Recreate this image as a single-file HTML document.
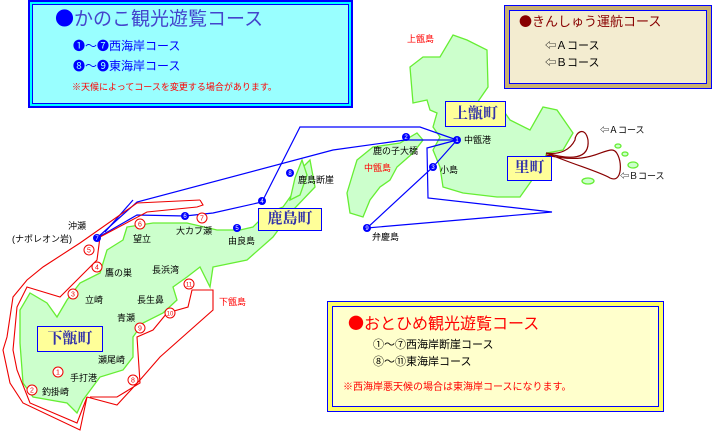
<!DOCTYPE html>
<html><head><meta charset="utf-8"><style>
body{margin:0;background:#fff;width:712px;height:431px;overflow:hidden;position:relative;font-family:"Liberation Sans","Noto Sans CJK JP",sans-serif}
.t{position:absolute;font-size:10px;white-space:nowrap;line-height:1}
.b{font-family:"Noto Sans CJK JP",sans-serif}
.town{position:absolute;background:#ffff99;border:1px solid #0000ff;color:#3333aa;font-family:"Liberation Serif","Noto Serif CJK SC",serif;font-weight:bold;font-size:15px;text-align:center;box-sizing:border-box}
</style></head><body>
<svg width="712" height="431" style="position:absolute;left:0;top:0">
<g fill="#ccffcc" stroke="#66ee33" stroke-width="1.3">
<polygon points="453,35 467,40 487,50 488,87 477,103 503,110 510,120 530,130 543,107 557,110 573,133 563,150 547,153 537,173 520,197 497,197 463,193 443,187 440,167 433,150 440,137 433,127 437,113 430,110 427,100 413,103 410,67 423,57 440,57"/>
<polygon points="357,160 373,147 400,143 417,133 423,140 413,153 397,167 390,180 380,187 370,200 363,217 350,213 347,193 353,173"/>
<polygon points="310,160 315,187 293,210 273,237 247,260 213,267 210,287 200,267 187,277 173,287 177,300 163,313 143,323 133,337 133,357 123,370 100,377 83,400 77,413 67,403 33,397 23,383 20,343 20,310 30,293 47,303 57,317 67,300 80,283 100,273 107,250 123,240 127,227 153,223 187,223 217,230 240,230 253,227 267,213 283,207 293,193 300,170"/>
<polygon points="302,160 307,175 300,195 290,200 295,178"/>
<ellipse cx="618" cy="146" rx="3" ry="2"/><ellipse cx="625" cy="154" rx="3" ry="2"/><ellipse cx="633" cy="165" rx="5" ry="3"/><ellipse cx="588" cy="181" rx="6" ry="3"/>
</g>
<g fill="none" stroke="#0000ff" stroke-width="1.2">
<polyline points="97,238 137,202 333,150 405,140 457,140"/>
<polyline points="97,238 137,215 185,216 213,213 262,202 300,127 420,127 457,140"/>
<polyline points="457,140 427,148 428,198 552,212 367,228 433,167 457,140"/>
<polyline points="105,232 133,200"/>
</g>
<g fill="none" stroke="#ee0000" stroke-width="1.1">
<polyline points="200,200 137,203 80,243 43,267 27,280 13,297 7,337 3,350 10,383 23,403 80,430 87,397"/>
<polyline points="200,200 203,205 197,207 147,212 100,237"/>
<polyline points="100,237 97,260 80,277 60,297 27,287 17,307 13,350 17,370 30,403 77,423 87,397"/>
<polyline points="87,397 117,405 140,380 160,357 213,310 213,290 192,290 188,307 167,313 153,330 137,337 140,383 117,397 90,397"/>
</g>
<g fill="none" stroke="#880000" stroke-width="1.2">
<path d="M546,153 C570,160 590,160 588,140 C585,125 575,133 575,140 C570,150 560,155 546,153"/>
<path d="M546,153 C575,165 600,172 610,178 C625,185 622,150 612,150 C600,150 590,165 546,155"/>
</g>
<g fill="#0000ff">
<circle cx="457" cy="140" r="4"/><circle cx="406" cy="137" r="4"/><circle cx="433" cy="167" r="4"/><circle cx="262" cy="201" r="4"/><circle cx="237" cy="228" r="4"/><circle cx="185" cy="216" r="4"/><circle cx="97" cy="238" r="4"/><circle cx="290" cy="173" r="4"/><circle cx="367" cy="228" r="4"/>
</g>
<g fill="#fff" font-size="6" font-family="Liberation Sans" text-anchor="middle">
<text x="457" y="142">1</text><text x="406" y="139">2</text><text x="433" y="169">3</text><text x="262" y="203">4</text><text x="237" y="230">5</text><text x="185" y="218">6</text><text x="97" y="240">7</text><text x="290" y="175">8</text><text x="367" y="230">9</text>
</g>
<g fill="#fff" stroke="#ee0000">
<circle cx="58" cy="372" r="5"/><circle cx="32" cy="390" r="5"/><circle cx="73" cy="294" r="5"/><circle cx="97" cy="267" r="5"/><circle cx="89" cy="250" r="5"/><circle cx="140" cy="224" r="5"/><circle cx="202" cy="218" r="5"/><circle cx="133" cy="380" r="5"/><circle cx="140" cy="328" r="5"/><circle cx="170" cy="313" r="5"/><circle cx="189" cy="284" r="5"/>
</g>
<g fill="#ee0000" font-size="7" font-family="Liberation Sans" text-anchor="middle">
<text x="58" y="374.5">1</text><text x="32" y="392.5">2</text><text x="73" y="296.5">3</text><text x="97" y="269.5">4</text><text x="89" y="252.5">5</text><text x="140" y="226.5">6</text><text x="202" y="220.5">7</text><text x="133" y="382.5">8</text><text x="140" y="330.5">9</text><text x="170" y="315.5" font-size="6">10</text><text x="189" y="286.5" font-size="6">11</text>
</g>
</svg>
<div style="position:absolute;left:28px;top:0;width:325px;height:108px;box-sizing:border-box;border:2px solid #0000ff;background:#00ffff">
<div style="position:absolute;left:2px;top:2px;right:2px;bottom:2px;border:1px solid #0000ff;background:#99ffff"></div></div>
<div class="t" style="left:55px;top:8px;font-size:19px;color:#0000ff"><span class="b">●</span><span style="color:#4444cc">かのこ観光遊覧コース</span></div>
<div class="t" style="left:73px;top:40px;font-size:12px;color:#0000ff">❶～❼西海岸コース</div>
<div class="t" style="left:73px;top:60px;font-size:12px;color:#0000ff">❽～❾東海岸コース</div>
<div class="t" style="left:72px;top:83px;font-size:9px;color:#ff0000">※天候によってコースを変更する場合があります。</div>
<div style="position:absolute;left:504px;top:5px;width:208px;height:84px;box-sizing:border-box;background:#c8b070;border:1px solid #0000ff">
<div style="position:absolute;left:4px;top:4px;right:4px;bottom:4px;border:1px solid #0000ff;background:#f3ecd0"></div></div>
<div class="t" style="left:519px;top:14px;font-size:13px;color:#880000"><span class="b">●</span>きんしゅう運航コース</div>
<div class="t" style="left:545px;top:41px;font-size:11px;color:#000">⇦Ａコース</div>
<div class="t" style="left:545px;top:58px;font-size:11px;color:#000">⇦Ｂコース</div>
<div style="position:absolute;left:327px;top:301px;width:337px;height:111px;box-sizing:border-box;background:#ffff66;border:1px solid #0000ff">
<div style="position:absolute;left:4px;top:4px;right:4px;bottom:4px;border:1px solid #0000ff;background:#ffffcc"></div></div>
<div class="t" style="left:348px;top:314px;font-size:16px;color:#ff0000"><span class="b">●</span>おとひめ観光遊覧コース</div>
<div class="t" style="left:373px;top:340px;font-size:11px;color:#000">①～⑦西海岸断崖コース</div>
<div class="t" style="left:373px;top:357px;font-size:11px;color:#000">⑧～⑪東海岸コース</div>
<div class="t" style="left:343px;top:383px;font-size:10px;color:#ff0000">※西海岸悪天候の場合は東海岸コースになります。</div>
<div class="town" style="left:445px;top:101px;width:61px;height:26px;line-height:24px">上甑町</div>
<div class="town" style="left:507px;top:156px;width:45px;height:25px;line-height:23px">里町</div>
<div class="town" style="left:258px;top:208px;width:64px;height:23px;line-height:21px">鹿島町</div>
<div class="town" style="left:37px;top:326px;width:66px;height:26px;line-height:24px">下甑町</div>
<div class="t" style="left:407px;top:35px;color:#ff0000;font-size:9px">上甑島</div>
<div class="t" style="left:364px;top:164px;color:#ff0000;font-size:9px">中甑島</div>
<div class="t" style="left:219px;top:298px;color:#ff0000;font-size:9px">下甑島</div>
<div class="t" style="left:373px;top:147px;font-size:9px">鹿の子大橋</div>
<div class="t" style="left:464px;top:136px;font-size:9px">中甑港</div>
<div class="t" style="left:440px;top:166px;font-size:9px">小島</div>
<div class="t" style="left:372px;top:233px;font-size:9px">弁慶島</div>
<div class="t" style="left:298px;top:176px;font-size:9px">鹿島断崖</div>
<div class="t" style="left:600px;top:126px;font-size:9px">⇦Ａコース</div>
<div class="t" style="left:620px;top:172px;font-size:9px">⇦Ｂコース</div>
<div class="t" style="left:68px;top:222px;font-size:9px">沖瀬</div>
<div class="t" style="left:12px;top:235px;font-size:9px">(ナポレオン岩)</div>
<div class="t" style="left:176px;top:227px;font-size:9px">大カブ瀬</div>
<div class="t" style="left:228px;top:237px;font-size:9px">由良島</div>
<div class="t" style="left:133px;top:235px;font-size:9px">望立</div>
<div class="t" style="left:105px;top:269px;font-size:9px">鷹の巣</div>
<div class="t" style="left:152px;top:266px;font-size:9px">長浜湾</div>
<div class="t" style="left:85px;top:296px;font-size:9px">立崎</div>
<div class="t" style="left:137px;top:296px;font-size:9px">長生鼻</div>
<div class="t" style="left:117px;top:314px;font-size:9px">青瀬</div>
<div class="t" style="left:98px;top:356px;font-size:9px">瀬尾崎</div>
<div class="t" style="left:70px;top:374px;font-size:9px">手打港</div>
<div class="t" style="left:42px;top:388px;font-size:9px">釣掛崎</div>
</body></html>
